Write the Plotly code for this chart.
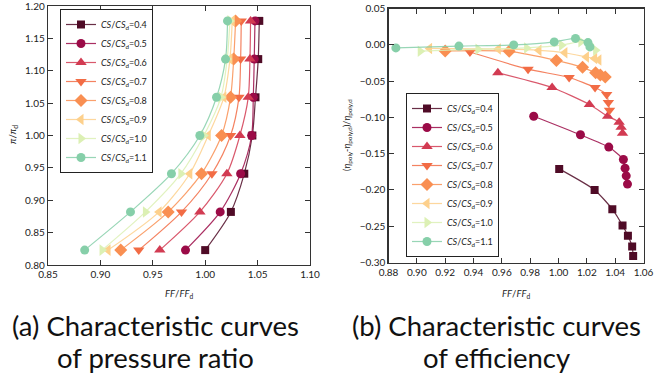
import plotly.graph_objects as go

W, H = 655, 380

cs_labels = ["0.4", "0.5", "0.6", "0.7", "0.8", "0.9", "1.0", "1.1"]
colors = ["#4f0b26", "#9b0b47", "#d23b52", "#f26c45", "#f98f52", "#fdd08c", "#dcf0b4", "#86cfa9"]
symbols = ["square", "circle", "triangle-up", "triangle-down", "diamond",
           "triangle-left", "triangle-right", "circle"]

# pressure ratio levels (pi/pi_d)
pr_levels = [0.823, 0.882, 0.941, 1.000, 1.059, 1.118, 1.177]

# FF/FF_d for panel (a), one list per CS/CS_d
ff_pr = [
    [1.000, 1.0245, 1.0373, 1.0450, 1.0480, 1.0506, 1.0516],
    [0.9812, 1.0143, 1.0338, 1.0443, 1.0459, 1.0468, 1.0475],
    [0.9567, 0.9949, 1.0207, 1.0331, 1.0411, 1.0427, 1.0433],
    [0.9366, 0.9774, 1.0064, 1.0242, 1.0322, 1.0338, 1.0344],
    [0.9194, 0.9647, 0.9965, 1.0156, 1.0242, 1.0272, 1.0290],
    [0.9073, 0.9560, 0.9853, 1.0029, 1.0178, 1.0236, 1.0258],
    [0.9016, 0.9430, 0.9768, 0.9987, 1.0150, 1.0210, 1.0236],
    [0.8850, 0.9287, 0.9678, 0.9949, 1.0108, 1.0194, 1.0213],
]

# FF/FF_d for panel (b)
ff_eff = [
    [1.0005, 1.0255, 1.0380, 1.0452, 1.0490, 1.0520, 1.0527],
    [0.9825, 1.0155, 1.0355, 1.0458, 1.0470, 1.0478, 1.0487],
    [0.9572, 0.9955, 1.0218, 1.0347, 1.0428, 1.0442, 1.0452],
    [0.9375, 0.9785, 1.0075, 1.0258, 1.0340, 1.0352, 1.0360],
    [0.9200, 0.9652, 0.9985, 1.0170, 1.0262, 1.0295, 1.0330],
    [0.9090, 0.9575, 0.9862, 1.0045, 1.0197, 1.0255, 1.0285],
    [0.9024, 0.9432, 0.9775, 1.0022, 1.0158, 1.0218, 1.0262],
    [0.8852, 0.9297, 0.9684, 0.9970, 1.0120, 1.0208, 1.0222],
]

# (eta_poly - eta_poly,d)/eta_poly,d
eff = [
    [-0.171, -0.200, -0.2265, -0.249, -0.263, -0.278, -0.291],
    [-0.0984, -0.124, -0.141, -0.158, -0.170, -0.1806, -0.192],
    [-0.0387, -0.0589, -0.0823, -0.0984, -0.1066, -0.1135, -0.1218],
    [-0.0100, -0.0336, -0.0451, -0.0589, -0.0685, -0.0795, -0.0901],
    [-0.0084, -0.0090, -0.0215, -0.0311, -0.0385, -0.0415, -0.0445],
    [-0.0050, -0.0058, -0.0077, -0.0110, -0.0167, -0.0190, -0.0210],
    [-0.0088, -0.0061, -0.0043, -0.0006, 0.0042, 0.0005, -0.0075],
    [-0.0043, -0.0018, -0.0002, 0.0040, 0.0088, 0.0030, -0.0029],
]

sizes = [8, 9, 10, 10, 10, 10, 10, 9]


def rgba(hexc, a):
    hexc = hexc.lstrip("#")
    r, g, b = int(hexc[0:2], 16), int(hexc[2:4], 16), int(hexc[4:6], 16)
    return f"rgba({r},{g},{b},{a})"


fig = go.Figure()
FONT = "Lato, 'Open Sans', sans-serif"

for i, cs in enumerate(cs_labels):
    name = f"<i>CS</i>/<i>CS</i><sub>d</sub>={cs}"
    fig.add_trace(go.Scatter(
        x=ff_pr[i], y=pr_levels, xaxis="x", yaxis="y", name=name,
        mode="lines+markers", legend="legend",
        line=dict(color=rgba(colors[i], 0.85), width=1.2, shape="spline", smoothing=0.8),
        marker=dict(symbol=symbols[i], size=sizes[i], color=colors[i], line=dict(width=0)),
    ))
for i, cs in enumerate(cs_labels):
    name = f"<i>CS</i>/<i>CS</i><sub>d</sub>={cs}"
    fig.add_trace(go.Scatter(
        x=ff_eff[i], y=eff[i], xaxis="x2", yaxis="y2", name=name,
        mode="lines+markers", legend="legend2",
        line=dict(color=rgba(colors[i], 0.85), width=1.2, shape="spline", smoothing=0.6),
        marker=dict(symbol=symbols[i], size=sizes[i], color=colors[i], line=dict(width=0)),
    ))


def px(x):
    return x / W


def py(y):
    return 1 - y / H


axis_common = dict(
    showgrid=False, zeroline=False, showline=True, linecolor="#333", linewidth=1.2,
    mirror="allticks", ticks="inside", ticklen=5, tickwidth=1, tickcolor="#333",
    tickfont=dict(family=FONT, size=10, color="#222"), tickformat=".2f", automargin=False,
    ticklabeloverflow="allow",
)

LEGFONT = dict(family=FONT, size=9, color="#222")
fig.update_layout(
    width=W, height=H, margin=dict(l=0, r=0, t=0, b=0, pad=0, autoexpand=False),
    paper_bgcolor="white", plot_bgcolor="white",
    font=dict(family=FONT, color="#222"),
    xaxis=dict(domain=[px(48), px(310)], range=[0.85, 1.1000001], dtick=0.05, anchor="y", **axis_common),
    yaxis=dict(domain=[py(265), py(6)], range=[0.80, 1.2000001], dtick=0.05, anchor="x", **axis_common),
    xaxis2=dict(domain=[px(388.5), px(643.5)], range=[0.88, 1.0600001], dtick=0.02, anchor="y2", **axis_common),
    yaxis2=dict(domain=[py(262.5), py(8.5)], range=[-0.30, 0.0500001], dtick=0.05, anchor="x2", **axis_common),
    legend=dict(x=px(60), y=py(9), xanchor="left", yanchor="top",
                bgcolor="white", bordercolor="#222", borderwidth=1,
                font=LEGFONT, tracegroupgap=0, itemwidth=30),
    legend2=dict(x=px(406), y=py(93), xanchor="left", yanchor="top",
                 bgcolor="white", bordercolor="#222", borderwidth=1,
                 font=LEGFONT, tracegroupgap=0, itemwidth=30),
    showlegend=True,
)

TF = dict(family=FONT, size=9.5, color="#222")
ann = []
ann.append(dict(text="<i>FF</i>/<i>FF</i><sub>d</sub>", x=px(179), y=py(294), xref="paper", yref="paper",
                showarrow=False, font=TF, xanchor="center", yanchor="middle"))
ann.append(dict(text="<i>FF</i>/<i>FF</i><sub>d</sub>", x=px(516), y=py(294), xref="paper", yref="paper",
                showarrow=False, font=TF, xanchor="center", yanchor="middle"))
ann.append(dict(text="<i>π</i>/<i>π</i><sub>d</sub>", x=px(13), y=py(135), xref="paper", yref="paper",
                showarrow=False, textangle=-90, font=TF, xanchor="center", yanchor="middle"))
ann.append(dict(text="(<i>η</i><sub>poly</sub>-<i>η</i><sub>poly,d</sub>)/<i>η</i><sub>poly,d</sub>",
                x=px(347), y=py(135), xref="paper", yref="paper",
                showarrow=False, textangle=-90, font=dict(family=FONT, size=9, color="#222"),
                xanchor="center", yanchor="middle"))
CAP = dict(family=FONT, size=27.5, color="#111")
for txt, xx, yy in [("(a) Characteristic curves", 155, 325), ("of pressure ratio", 155, 357),
                    ("(b) Characteristic curves", 496, 325), ("of efficiency", 496, 357)]:
    ann.append(dict(text=txt, x=px(xx), y=py(yy), xref="paper", yref="paper", showarrow=False,
                    font=CAP, xanchor="center", yanchor="middle"))
fig.update_layout(annotations=ann)

fig.write_html("out.html", config={"displayModeBar": False, "staticPlot": True},
               post_script="document.body.style.margin='0';document.body.style.padding='0';"
                           "document.documentElement.style.overflow='hidden';")
